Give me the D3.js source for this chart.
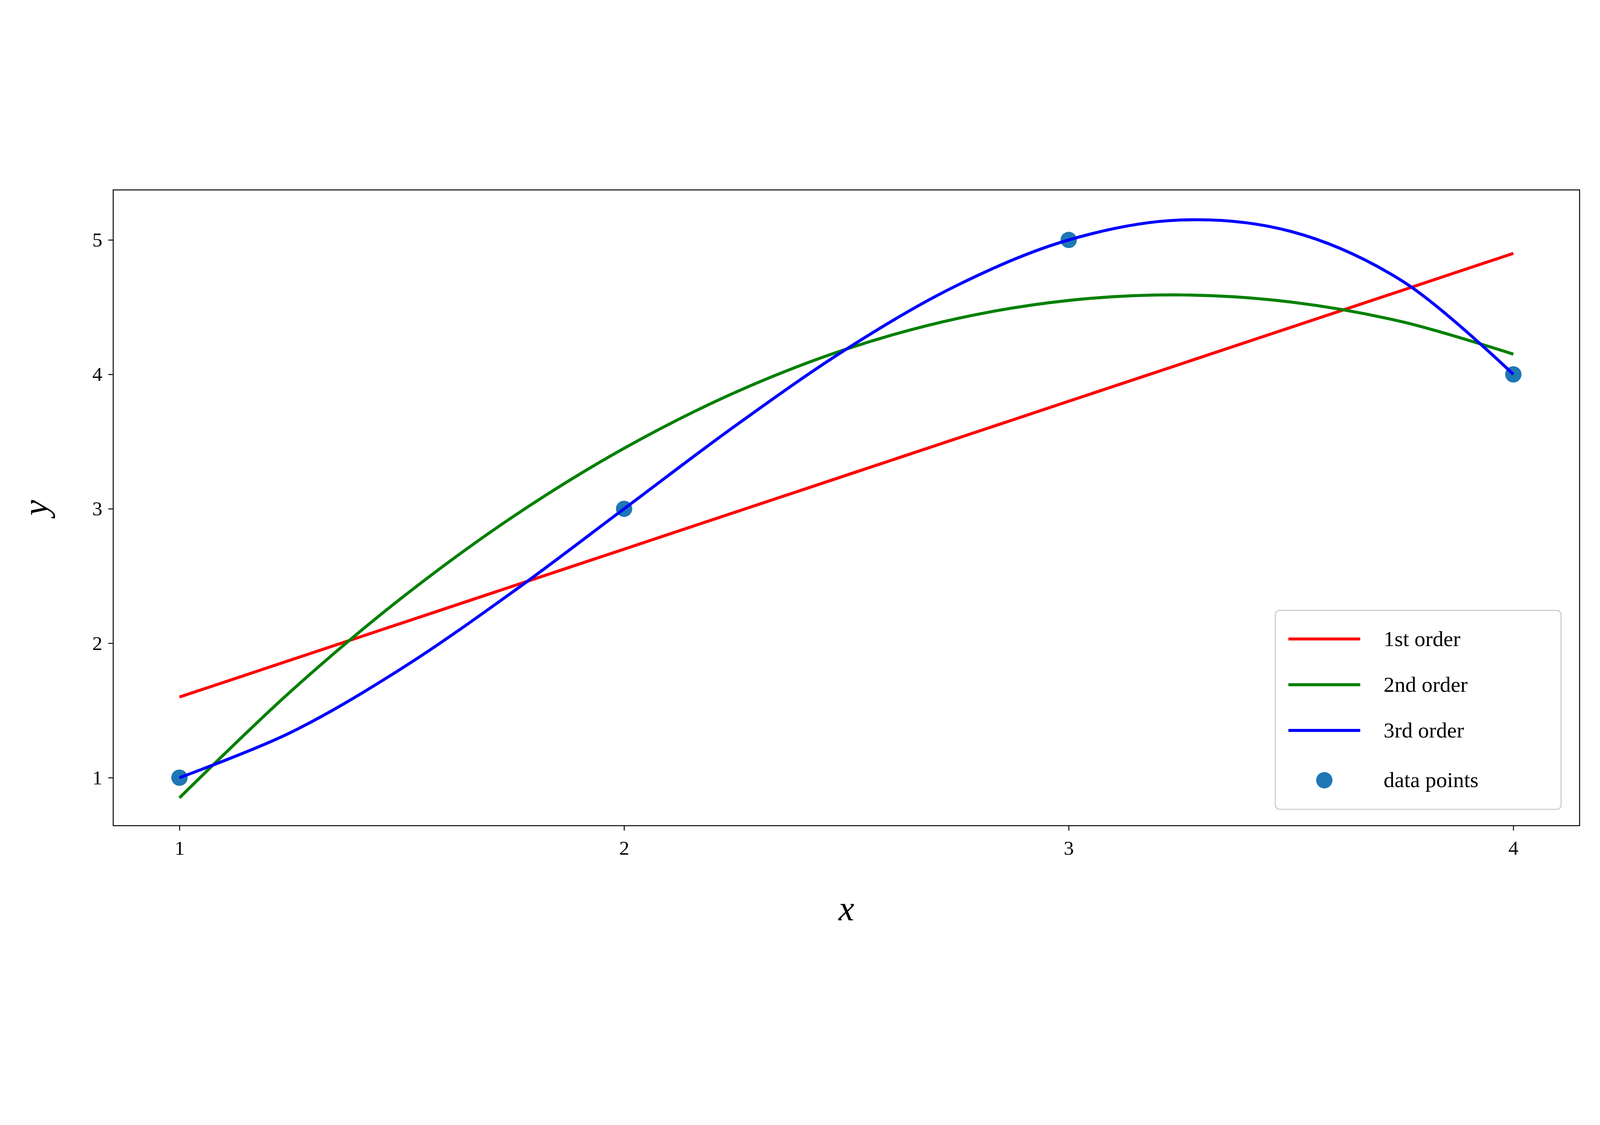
<!DOCTYPE html>
<html><head><meta charset="utf-8">
<script src="https://cdn.jsdelivr.net/npm/d3@7"></script>
<style>html,body{margin:0;background:#fff;overflow:hidden}svg{display:block;width:100vw;height:100vh}text{font-family:"Liberation Serif","DejaVu Serif",serif}</style>
</head><body><svg id="chart"></svg>
<script>
// data points
var pointX = [1, 2, 3, 4];
var pointY = [1, 3, 5, 4];
// fitted curves, sampled every 0.25 along x
var curveX = [1, 1.25, 1.5, 1.75, 2, 2.25, 2.5, 2.75, 3, 3.25, 3.5, 3.75, 4];
var firstOrder = [1.6, 1.875, 2.15, 2.425, 2.7, 2.975, 3.25, 3.525, 3.8, 4.075, 4.35, 4.625, 4.9];
var secondOrder = [0.85, 1.641, 2.338, 2.941, 3.45, 3.866, 4.188, 4.416, 4.55, 4.591, 4.538, 4.391, 4.15];
var thirdOrder = [1, 1.336, 1.813, 2.383, 3, 3.617, 4.188, 4.664, 5, 5.148, 5.063, 4.695, 4];
var xTicks = [1, 2, 3, 4];
var yTicks = [1, 2, 3, 4, 5];
var seriesNames = ["1st order", "2nd order", "3rd order", "data points"];

var W = 5879, H = 2880;
var margin = {top: 71, right: 75, bottom: 473, left: 416};
var width = W - margin.left - margin.right;
var height = H - margin.top - margin.bottom;

// viewBox so the whole figure fits the window whatever its real pixel size
var svg = d3.select("#chart").attr("viewBox", "0 0 " + W + " " + H)
  .attr("preserveAspectRatio", "xMidYMid meet");
var g = svg.append("g").attr("transform", "translate(" + margin.left + "," + margin.top + ")");

var x = d3.scaleLinear().domain([0.851, 4.149]).range([0, width]);
var y = d3.scaleLinear().domain([0.643, 5.372]).range([height, 0]);

var xAxis = g.append("g").attr("transform", "translate(0," + height + ")")
  .call(d3.axisBottom(x).tickValues(xTicks).tickFormat(d3.format("d")).tickSizeOuter(0).tickSize(18).tickPadding(22));
var yAxis = g.append("g")
  .call(d3.axisLeft(y).tickValues(yTicks).tickFormat(d3.format("d")).tickSizeOuter(0).tickSize(18).tickPadding(22));
[xAxis, yAxis].forEach(function(a){
  a.select(".domain").remove();
  a.selectAll("line").attr("stroke", "#000").attr("stroke-width", 3.5);
  a.selectAll("text").attr("font-size", 74).attr("fill", "#000");
});
xAxis.selectAll("text").attr("dy", "0.9em");

g.append("rect").attr("width", width).attr("height", height)
  .attr("fill", "none").attr("stroke", "#000").attr("stroke-width", 3.5);

var colors = ["#ff0000", "#008000", "#0000ff"];
var series = [firstOrder, secondOrder, thirdOrder];
var line = d3.line().x(function(d){return x(d[0]);}).y(function(d){return y(d[1]);}).curve(d3.curveCatmullRom);

g.selectAll(".dot").data(d3.zip(pointX, pointY)).enter().append("circle")
  .attr("cx", function(d){return x(d[0]);}).attr("cy", function(d){return y(d[1]);})
  .attr("r", 30).attr("fill", "#1f77b4");

series.forEach(function(s, i){
  g.append("path").datum(d3.zip(curveX, s)).attr("d", line)
    .attr("fill", "none").attr("stroke", colors[i]).attr("stroke-width", 11);
});

// axis labels
svg.append("text").attr("x", margin.left + width / 2).attr("y", 2755)
  .attr("text-anchor", "middle").attr("font-size", 130).attr("font-style", "italic").text("x");
svg.append("text").attr("transform", "translate(175," + (margin.top + height / 2) + ") rotate(-90)")
  .attr("text-anchor", "middle").attr("font-size", 130).attr("font-style", "italic").text("y");

// legend
var lg = svg.append("g").attr("transform", "translate(4686,1616)");
lg.append("rect").attr("width", 1050).attr("height", 731).attr("rx", 16)
  .attr("fill", "#fff").attr("fill-opacity", 0.8).attr("stroke", "#ccc").attr("stroke-width", 4);
seriesNames.forEach(function(name, i){
  var cy = 105 + i * 168;
  if (i < 3) {
    lg.append("line").attr("x1", 48).attr("x2", 312).attr("y1", cy).attr("y2", cy)
      .attr("stroke", colors[i]).attr("stroke-width", 11);
  } else {
    lg.append("circle").attr("cx", 180).attr("cy", cy + 15).attr("r", 30).attr("fill", "#1f77b4");
  }
  lg.append("text").attr("x", 398).attr("y", (i < 3 ? cy : cy + 15) + 26)
    .attr("font-size", 80).text(name);
});
</script></body></html>
